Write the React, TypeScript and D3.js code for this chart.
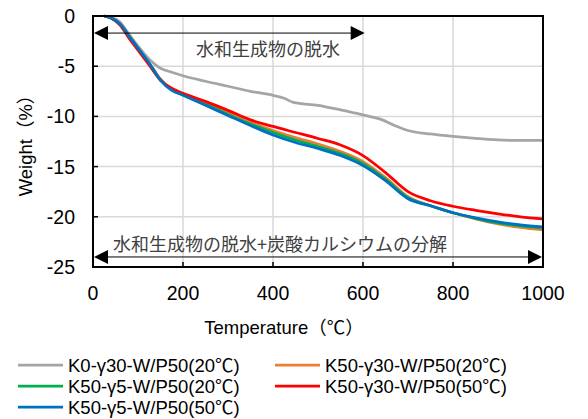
import React from "react";
import * as d3 from "d3";

const temps = [25, 40, 60, 80, 100, 125, 150, 175, 200, 250, 300, 350, 400, 450, 500, 550, 600, 650, 700, 750, 800, 850, 900, 950, 1000];
const grayTemps = [25, 40, 60, 75, 100, 125, 150, 175, 200, 250, 300, 350, 400, 425, 445, 500, 550, 600, 640, 670, 700, 750, 800, 850, 900, 950, 1000];
const k0g30 = [0, -0.1, -0.6, -1.5, -3.0, -4.3, -5.2, -5.6, -5.95, -6.5, -7.0, -7.5, -7.9, -8.2, -8.6, -8.9, -9.35, -9.85, -10.3, -10.9, -11.4, -11.75, -12.0, -12.2, -12.35, -12.4, -12.4];
const k50g30_20 = [0, -0.2, -0.8, -2.0, -3.2, -4.7, -6.3, -7.3, -7.8, -8.7, -9.65, -10.6, -11.4, -12.1, -12.75, -13.5, -14.5, -16.1, -18.0, -18.9, -19.6, -20.2, -20.7, -21.05, -21.3];
const k50g5_20 = [0, -0.2, -0.8, -2.0, -3.2, -4.7, -6.35, -7.35, -7.85, -8.8, -9.8, -10.75, -11.6, -12.35, -13.0, -13.7, -14.7, -16.25, -18.1, -18.9, -19.6, -20.15, -20.6, -20.9, -21.1];
const k50g30_50 = [0, -0.2, -0.9, -2.2, -3.4, -4.9, -6.4, -7.2, -7.7, -8.5, -9.4, -10.35, -11.0, -11.6, -12.2, -12.85, -13.9, -15.6, -17.5, -18.4, -18.95, -19.35, -19.7, -20.0, -20.2];
const k50g5_50 = [0, -0.2, -0.8, -2.0, -3.2, -4.7, -6.4, -7.4, -7.9, -8.9, -9.9, -10.9, -11.85, -12.6, -13.2, -13.9, -14.9, -16.4, -18.2, -18.9, -19.6, -20.1, -20.5, -20.8, -21.0];

const seriesNames = ["K0-γ30-W/P50(20℃)", "K50-γ30-W/P50(20℃)", "K50-γ5-W/P50(20℃)", "K50-γ30-W/P50(50℃)", "K50-γ5-W/P50(50℃)"];
const seriesColors = ["#a5a5a5", "#ed7d31", "#00b050", "#ff0000", "#0070c0"];
const seriesX = [grayTemps, temps, temps, temps, temps];
const seriesY = [k0g30, k50g30_20, k50g5_20, k50g30_50, k50g5_50];

const xTicks = [0, 200, 400, 600, 800, 1000];
const yTicks = [0, -5, -10, -15, -20, -25];

const annoLabels = ["水和生成物の脱水", "水和生成物の脱水+炭酸カルシウムの分解"];
const annoFrom = [0, 0];
const annoTo = [606, 1000];
const annoY = [-1.7, -24.0];

const xTitle = "Temperature（℃）";
const yTitle = "Weight（%）";

export default function App() {
  const W = 588, H = 419;
  const L = 93, R = 543, T = 16, B = 267;
  const x = d3.scaleLinear().domain([0, 1000]).range([L, R]);
  const y = d3.scaleLinear().domain([-25, 0]).range([B, T]);
  const font = "'Liberation Sans', Arial, 'Noto Sans CJK JP', sans-serif";
  const jfont = "'Noto Sans CJK JP', sans-serif";

  const line = (xs: number[], ys: number[]) =>
    d3.line<number>().x((_, i) => x(xs[i])).y((d) => y(d)).curve(d3.curveMonotoneX)(ys) || "";

  const legendPos = [
    [18, 365], [275, 365], [18, 386], [275, 386], [18, 407],
  ];

  return (
    <svg width={W} height={H} style={{ position: "absolute", left: 0, top: 0, background: "#fff" }} fontFamily={font}>
      <rect x={0} y={0} width={W} height={H} fill="#fff" />
      {xTicks.map((t) => (
        <line key={"gx" + t} x1={x(t)} x2={x(t)} y1={T} y2={B} stroke="#d9d9d9" strokeWidth={1.5} />
      ))}
      {yTicks.map((t) => (
        <line key={"gy" + t} x1={L} x2={R} y1={y(t)} y2={y(t)} stroke="#d9d9d9" strokeWidth={1.5} />
      ))}
      {xTicks.map((t) => (
        <line key={"tx" + t} x1={x(t)} x2={x(t)} y1={B} y2={B - 5} stroke="#000" strokeWidth={1.5} />
      ))}
      {yTicks.map((t) => (
        <line key={"ty" + t} x1={L} x2={L + 5} y1={y(t)} y2={y(t)} stroke="#000" strokeWidth={1.5} />
      ))}
      {seriesY.map((ys, i) => (
        <path key={"s" + i} d={line(seriesX[i], ys)} fill="none" stroke={seriesColors[i]} strokeWidth={2.75} strokeLinejoin="round" />
      ))}
      <rect x={L} y={T} width={R - L} height={B - T} fill="none" stroke="#000" strokeWidth={2} />
      {annoLabels.map((lab, i) => {
        const yy = y(annoY[i]);
        const x0 = x(annoFrom[i]) + 1;
        const x1 = x(annoTo[i]) - 1;
        return (
          <g key={"a" + i}>
            <line x1={x0 + 12} x2={x1 - 12} y1={yy} y2={yy} stroke="#000" strokeWidth={1} />
            <path d={`M${x0},${yy}L${x0 + 14},${yy - 7}L${x0 + 14},${yy + 7}Z`} fill="#000" />
            <path d={`M${x1},${yy}L${x1 - 14},${yy - 7}L${x1 - 14},${yy + 7}Z`} fill="#000" />
          </g>
        );
      })}
      <text x={268} y={48} textAnchor="middle" dominantBaseline="central" fontFamily={jfont} fontSize={18} fill="#404040">{annoLabels[0]}</text>
      <text x={113} y={243} textAnchor="start" dominantBaseline="central" fontFamily={jfont} fontSize={18} fill="#404040">{annoLabels[1]}</text>
      {xTicks.map((t) => (
        <text key={"lx" + t} x={x(t)} y={300} textAnchor="middle" fontSize={19.5} fill="#000">{t}</text>
      ))}
      {yTicks.map((t) => (
        <text key={"ly" + t} x={75} y={y(t)} textAnchor="end" dominantBaseline="central" fontSize={19.5} fill="#000">{t}</text>
      ))}
      <text x={284} y={327} textAnchor="middle" dominantBaseline="central" fontSize={18.5} fill="#000">{xTitle}</text>
      <text transform={`translate(25,141) rotate(-90)`} textAnchor="middle" dominantBaseline="central" fontSize={18.5} fill="#000">{yTitle}</text>
      {seriesNames.map((n, i) => (
        <g key={"lg" + i} transform={`translate(${legendPos[i][0]},${legendPos[i][1]})`}>
          <line x1={0} x2={45} y1={0} y2={0} stroke={seriesColors[i]} strokeWidth={2.75} />
          <text x={50} y={0} dominantBaseline="central" fontSize={18.5} fill="#000">{n}</text>
        </g>
      ))}
    </svg>
  );
}
